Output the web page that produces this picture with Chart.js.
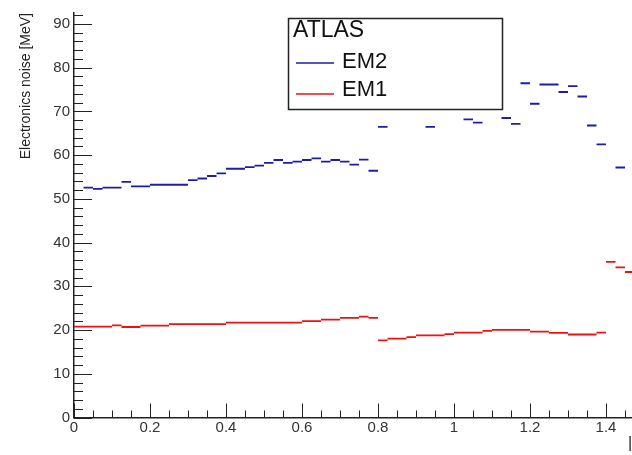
<!DOCTYPE html>
<html>
<head>
<meta charset="utf-8">
<script src="https://cdn.jsdelivr.net/npm/chart.js@4.4.1/dist/chart.umd.min.js"></script>
<style>
  body { margin: 0; background: #fff; }
  #wrap { width: 632px; height: 455px; }
</style>
</head>
<body>
<div id="wrap"><canvas id="grafico"></canvas></div>
<script>
// |eta| bins, 0.025 wide, starting at 0
const binWidth = 0.025;
const nBins = 59;

// EM2 - null where no entry can be seen (empty or under the legend)
const em2 = [
  null, 52.55, 52.26, 52.55, 52.55, 53.88, 52.86, 52.86, 53.22, 53.22,
  53.22, 53.22, 54.27, 54.65, 55.23, 55.83, 56.88, 56.88, 57.24, 57.61,
  58.22, 58.89, 58.22, 58.51, 58.89, 59.25, 58.51, 58.89, 58.51, 57.84,
  58.95, 56.43, 66.48, null, null, null, null, 66.48, null, null,
  null, 68.18, 67.44, null, null, 68.49, 67.15, 76.44, 71.75, 76.15,
  76.15, 74.43, 75.77, 73.40, 66.77, 62.46, null, 57.17, null
];

// EM1
const em1 = [
  20.77, 20.77, 20.77, 20.77, 21.06, 20.70, 20.70, 20.99, 20.99, 20.99,
  21.37, 21.37, 21.37, 21.37, 21.37, 21.37, 21.70, 21.70, 21.70, 21.70,
  21.70, 21.70, 21.70, 21.70, 22.04, 22.04, 22.40, 22.40, 22.78, 22.78,
  23.07, 22.78, 17.64, 18.02, 18.02, 18.38, 18.76, 18.76, 18.76, 19.05,
  19.43, 19.43, 19.43, 19.81, 20.03, 20.03, 20.03, 20.03, 19.65, 19.65,
  19.36, 19.36, 18.98, 18.98, 18.98, 19.43, 35.57, 34.32, 33.27
];

const xTicks = [0, 0.2, 0.4, 0.6, 0.8, 1.0, 1.2, 1.4];
const yTicks = [0, 10, 20, 30, 40, 50, 60, 70, 80, 90];

const fonte = 'Liberation Sans, Arial, sans-serif';

// each bin -> one horizontal dash (lo edge to hi edge), gaps between them
function dashes(values) {
    const pts = [];
    values.forEach((v, i) => {
        if (v === null) return;
        pts.push({ x: i * binWidth, y: v });
        pts.push({ x: (i + 1) * binWidth, y: v });
        pts.push({ x: (i + 1) * binWidth, y: null });
    });
    return pts;
}

// ROOT style tick marks, pointing into the frame
const rootTicks = {
    id: 'rootTicks',
    beforeDatasetsDraw(chart) {
        const { ctx, chartArea, scales: { x, y } } = chart;
        ctx.save();
        ctx.strokeStyle = '#222';
        ctx.lineWidth = 1;
        ctx.beginPath();
        for (let k = 0; k * 0.05 <= x.max; k++) {
            const px = Math.round(x.getPixelForValue(k * 0.05)) + 0.5;
            const len = k % 4 === 0 ? 14 : 7;
            ctx.moveTo(px, chartArea.bottom);
            ctx.lineTo(px, chartArea.bottom - len);
        }
        for (let k = 0; k * 2 <= y.max; k++) {
            const py = Math.round(y.getPixelForValue(k * 2)) + 0.5;
            const len = k % 5 === 0 ? 18 : 9;
            ctx.moveTo(chartArea.left, py);
            ctx.lineTo(chartArea.left + len, py);
        }
        ctx.stroke();
        ctx.restore();
    }
};

// legend box drawn over the data, like the TLegend
const caixaLegenda = {
    id: 'caixaLegenda',
    afterDatasetsDraw(chart) {
        const ctx = chart.ctx;
        ctx.save();
        ctx.fillStyle = '#fff';
        ctx.fillRect(288, 18, 214, 91);
        ctx.strokeStyle = '#222';
        ctx.lineWidth = 1.5;
        ctx.strokeRect(288.5, 18.5, 214, 91);

        ctx.fillStyle = '#111';
        ctx.font = '23px ' + fonte;
        ctx.textBaseline = 'middle';
        ctx.fillText('ATLAS', 293, 31);

        ctx.font = '22px ' + fonte;
        chart.data.datasets.forEach((ds, i) => {
            const yl = i === 0 ? 63 : 94;
            const yt = i === 0 ? 62 : 90;
            ctx.strokeStyle = ds.borderColor;
            ctx.lineWidth = 1.5;
            ctx.beginPath();
            ctx.moveTo(296, yl);
            ctx.lineTo(334, yl);
            ctx.stroke();
            ctx.fillStyle = '#111';
            ctx.fillText(ds.label, 342, yt);
        });
        ctx.restore();
    },
    afterDraw(chart) {
        const ctx = chart.ctx;
        ctx.save();
        ctx.fillStyle = '#222';
        ctx.font = '16px ' + fonte;
        ctx.textBaseline = 'middle';
        ctx.fillText('|η|', 628, 444);
        ctx.restore();
    }
};

const ctx = document.getElementById('grafico').getContext('2d');
const grafico = new Chart(ctx, {
    type: 'line',
    data: {
        datasets: [
            {
                label: 'EM2',
                data: dashes(em2),
                borderColor: '#1c1cae',
                borderWidth: 1.8,
                pointRadius: 0,
                spanGaps: false
            },
            {
                label: 'EM1',
                data: dashes(em1),
                borderColor: '#f01010',
                borderWidth: 1.8,
                pointRadius: 0,
                spanGaps: false
            }
        ]
    },
    options: {
        responsive: true,
        maintainAspectRatio: false,
        animation: false,
        layout: { padding: { top: 4, right: 0, bottom: 0, left: 0 } },
        plugins: {
            legend: { display: false },
            tooltip: { enabled: false }
        },
        scales: {
            x: {
                type: 'linear',
                min: 0,
                max: 1.4684,
                afterBuildTicks: s => { s.ticks = xTicks.map(v => ({ value: v })); },
                afterFit: s => { s.height = 37.5; },
                grid: { display: false, drawTicks: false },
                border: { display: true, color: '#222', width: 1.5 },
                ticks: {
                    padding: 1,
                    color: '#333',
                    maxRotation: 0,
                    autoSkip: false,
                    font: { family: fonte, size: 15 },
                    callback: v => String(Math.round(v * 10) / 10)
                }
            },
            y: {
                type: 'linear',
                min: 0,
                max: 92.5,
                afterBuildTicks: s => { s.ticks = yTicks.map(v => ({ value: v })); },
                afterFit: s => { s.width = 74; },
                grid: { display: false, drawTicks: false },
                border: { display: true, color: '#222', width: 1.5 },
                ticks: {
                    padding: 4,
                    color: '#333',
                    font: { family: fonte, size: 15 }
                },
                title: {
                    display: true,
                    text: 'Electronics noise [MeV]',
                    align: 'end',
                    color: '#222',
                    padding: { top: 18, bottom: 0 },
                    font: { family: fonte, size: 14 }
                }
            }
        }
    },
    plugins: [rootTicks, caixaLegenda]
});
</script>
</body>
</html>
